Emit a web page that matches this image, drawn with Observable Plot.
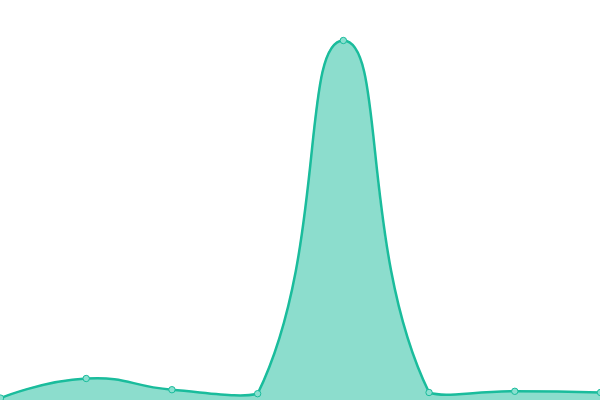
<!DOCTYPE html>
<html>
<head>
<meta charset="utf-8">
<script src="https://cdn.jsdelivr.net/npm/d3@7"></script>
<script src="https://cdn.jsdelivr.net/npm/@observablehq/plot@0.6"></script>
<style>
html, body { margin: 0; padding: 0; background: #fff; overflow: hidden; }
</style>
</head>
<body>
<div id="chart"></div>
<script>
const categories = [0, 1, 2, 3, 4, 5, 6, 7];
const values = [0.6, 5.5, 2.7, 1.7, 90, 2, 2.3, 2];

const data = categories.map((c, i) => ({x: c, y: values[i]}));

// Smooth bezier curve; control points constrained to the bounding box of the points
function drawSmooth(ctx, P, cont, smooth) {
  const n = P.length;
  if (!n) return;
  const minX = d3.min(P, p => p[0]), maxX = d3.max(P, p => p[0]);
  const minY = d3.min(P, p => p[1]), maxY = d3.max(P, p => p[1]);
  const cx = v => Math.max(minX, Math.min(maxX, v));
  const cy = v => Math.max(minY, Math.min(maxY, v));
  cont ? ctx.lineTo(P[0][0], P[0][1]) : ctx.moveTo(P[0][0], P[0][1]);
  let c0 = [P[0][0], P[0][1]];
  for (let i = 1; i < n; i++) {
    const p = P[i], prev = P[i - 1], next = P[i + 1];
    let c1, v = [0, 0], r = 0.5;
    if (!next) c1 = [p[0], p[1]];
    else {
      v = [next[0] - prev[0], next[1] - prev[1]];
      const l0 = Math.hypot(p[0] - prev[0], p[1] - prev[1]);
      const l1 = Math.hypot(next[0] - p[0], next[1] - p[1]);
      r = (l0 + l1) ? l1 / (l0 + l1) : 0.5;
      c1 = [p[0] - v[0] * smooth * (1 - r), p[1] - v[1] * smooth * (1 - r)];
    }
    ctx.bezierCurveTo(cx(c0[0]), cy(c0[1]), cx(c1[0]), cy(c1[1]), p[0], p[1]);
    c0 = [p[0] + v[0] * smooth * r, p[1] + v[1] * smooth * r];
  }
}
function smoothCurve(smooth) {
  return function(context) {
    let pts = [], line = NaN;
    return {
      areaStart() { line = 0; },
      areaEnd() { line = NaN; },
      lineStart() { pts = []; },
      point(x, y) { pts.push([+x, +y]); },
      lineEnd() {
        drawSmooth(context, pts, line === 1, smooth);
        if (line === 1 || (line !== 0 && pts.length === 1)) context.closePath();
        line = 1 - line;
      }
    };
  };
}
const curve = smoothCurve(0.5);

const chart = Plot.plot({
  width: 600,
  height: 400,
  margin: 0,
  x: {domain: [0, 7], axis: null},
  y: {domain: [0, 100], axis: null},
  marks: [
    Plot.areaY(data, {x: "x", y: "y", curve, fill: "#1abc9c", fillOpacity: 0.5}),
    Plot.lineY(data, {x: "x", y: "y", curve, stroke: "#1abc9c", strokeWidth: 2.5}),
    Plot.dot(data, {x: "x", y: "y", r: 3.2, fill: "#8ae0d0", stroke: "#1abc9c", strokeWidth: 1})
  ]
});
document.getElementById("chart").append(chart);
</script>
</body>
</html>
